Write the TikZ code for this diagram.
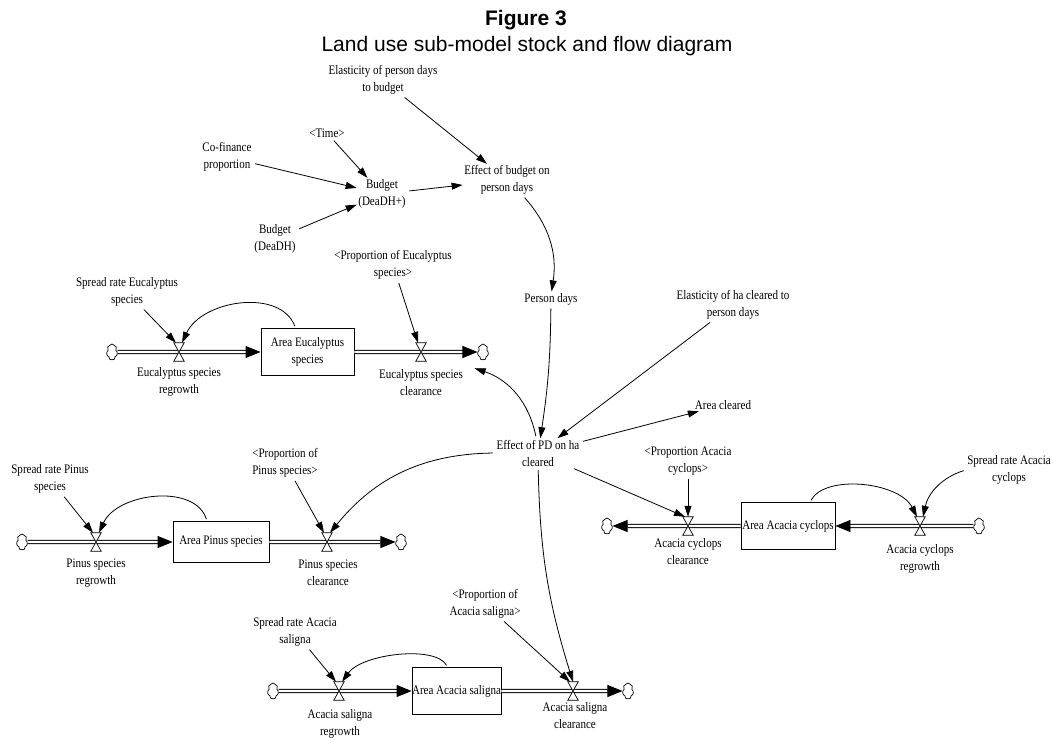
\documentclass[tikz,border=0pt]{standalone}
\usepackage{fontspec}
\setmainfont{Liberation Serif}
\newfontfamily\labfont[FakeStretch=0.85]{Liberation Serif}
\newfontfamily\headfont{Liberation Sans}
\usetikzlibrary{arrows.meta,shapes.symbols}

\begin{document}
\begin{tikzpicture}[x=1pt,y=-1pt,
  var/.style={font=\labfont\fontsize{13}{17}\selectfont, align=center, inner sep=1.5pt},
  stock/.style={var, draw, line width=0.9pt, inner sep=0pt},
  valvenode/.style={inner sep=0pt, minimum width=10pt, minimum height=18pt},
  valveline/.style={line width=0.7pt, fill=white},
  sink/.style={cloud, cloud puffs=7, cloud puff arc=120, aspect=0.7, draw, line width=0.7pt,
    minimum width=11pt, minimum height=16pt, inner sep=0pt},
  pipe/.style={draw, line width=0.9pt, double=white, double distance=2.4pt,
    -{Triangle[length=15pt,width=12pt]}},
  infolink/.style={line width=0.8pt, -{Triangle[length=11pt,width=7pt]}, shorten <=2pt},
]
\useasboundingbox (0,0) rectangle (1054,738);

% title
\node[font=\headfont\bfseries\fontsize{21}{25}\selectfont, anchor=base] (fig) at (526,26) {Figure 3};
\node[font=\headfont\fontsize{21}{25}\selectfont, anchor=base] (sub) at (527,52) {Land use sub-model stock and flow diagram};

% budget and effort variables
\node[var] (elpd) at (383,80) {Elasticity of person days\\to budget};
\node[var] (time) at (327,133) {\textless Time\textgreater};
\node[var] (cofin) at (227,157) {Co-finance\\proportion};
\node[var] (budp) at (382,194) {Budget\\(DeaDH+)};
\node[var] (bud) at (275,239) {Budget\\(DeaDH)};
\node[var] (ebpd) at (507,180) {Effect of budget on\\person days};
\node[var] (pd) at (551,299) {Person days};
\node[var] (elha) at (733,305) {Elasticity of ha cleared to\\person days};
\node[var] (arc) at (723,405) {Area cleared};
\node[var] (epd) at (538,453) {Effect of PD on ha\\cleared};

% Eucalyptus chain
\node[sink] (cE1) at (112,352) {};
\node[valvenode] (vE1) at (179,352) {};
\node[stock, minimum width=93pt, minimum height=47pt] (sE) at (307.5,352) {Area Eucalyptus\\species};
\node[valvenode] (vE2) at (421,352) {};
\node[sink] (cE2) at (483,352) {};
\node[var] (rE) at (179,382) {Eucalyptus species\\regrowth};
\node[var] (clE) at (421,383) {Eucalyptus species\\clearance};
\node[var] (spE) at (127,292) {Spread rate Eucalyptus\\species};
\node[var] (propE) at (393,265) {\textless Proportion of Eucalyptus\\species\textgreater};

% Pinus chain
\node[sink] (cP1) at (22,542) {};
\node[valvenode] (vP1) at (96,542) {};
\node[stock, minimum width=96pt, minimum height=41pt] (sP) at (221,542) {Area Pinus species};
\node[valvenode] (vP2) at (327,542) {};
\node[sink] (cP2) at (401,542) {};
\node[var] (rP) at (96,573) {Pinus species\\regrowth};
\node[var] (clP) at (328,573) {Pinus species\\clearance};
\node[var] (spP) at (50,479) {Spread rate Pinus\\species};
\node[var] (propP) at (285,463) {\textless Proportion of\\Pinus species\textgreater};

% Acacia cyclops chain
\node[sink] (cC1) at (607,526) {};
\node[valvenode] (vC1) at (688,526) {};
\node[stock, minimum width=94pt, minimum height=47pt] (sC) at (788,526) {Area Acacia cyclops};
\node[valvenode] (vC2) at (920,526) {};
\node[sink] (cC2) at (979,526) {};
\node[var] (clC) at (688,552) {Acacia cyclops\\clearance};
\node[var] (rC) at (920,559) {Acacia cyclops\\regrowth};
\node[var] (spC) at (1009,470) {Spread rate Acacia\\cyclops};
\node[var] (propC) at (688,461) {\textless Proportion Acacia\\cyclops\textgreater};

% Acacia saligna chain
\node[sink] (cS1) at (273,691) {};
\node[valvenode] (vS1) at (339,691) {};
\node[stock, minimum width=83pt, minimum height=47pt] (sS) at (456.5,691) {Area Acacia saligna};
\node[valvenode] (vS2) at (573,691) {};
\node[sink] (cS2) at (628,691) {};
\node[var] (rS) at (340,724) {Acacia saligna\\regrowth};
\node[var] (clS) at (575,716) {Acacia saligna\\clearance};
\node[var] (spS) at (295,632) {Spread rate Acacia\\saligna};
\node[var] (propS) at (485,604) {\textless Proportion of\\Acacia saligna\textgreater};

% material flows
\draw[pipe] (cE1) -- (sE);
\draw[pipe] (sE) -- (cE2);
\draw[pipe] (cP1) -- (sP);
\draw[pipe] (sP) -- (cP2);
\draw[pipe] (cC2) -- (sC);
\draw[pipe] (sC) -- (cC1);
\draw[pipe] (cS1) -- (sS);
\draw[pipe] (sS) -- (cS2);

% valves
\foreach \v in {vE1,vE2,vP1,vP2,vC1,vC2,vS1,vS2}
  \draw[valveline] (\v.north west) -- (\v.north east) -- (\v.south west) -- (\v.south east) -- cycle;

% budget links
\draw[infolink] (elpd) -- (ebpd);
\draw[infolink] (time) -- (budp);
\draw[infolink] (cofin) -- (budp);
\draw[infolink] (bud) -- (budp);
\draw[infolink] (budp) -- (ebpd);
\draw[infolink] (ebpd) to[bend left=25] (pd);
\draw[infolink] (pd) to[bend left=4] (epd);
\draw[infolink] (elha) -- (epd);
\draw[infolink] (epd) -- (arc);

% effort to clearance
\draw[infolink] (epd) to[bend right=30] ([xshift=10pt]clE.north east);
\draw[infolink] (epd.west) to[bend right=25] ([xshift=3pt]vP2.north);
\draw[infolink] (epd) -- ([xshift=-3pt]vC1.north);
\draw[infolink] (epd) to[bend right=8] (vS2.north);

% proportions
\draw[infolink] (propE) -- ([xshift=-3pt]vE2.north);
\draw[infolink] (propP) -- ([xshift=-3pt]vP2.north);
\draw[infolink] (propC) -- (vC1.north);
\draw[infolink] (propS) -- ([xshift=-3pt]vS2.north);

% spread rates
\draw[infolink] (spE) -- ([xshift=-3pt]vE1.north);
\draw[infolink] (spP) -- ([xshift=-3pt]vP1.north);
\draw[infolink] (spS) -- ([xshift=-3pt]vS1.north);
\draw[infolink] (spC.west) to[bend right=30] ([xshift=3pt]vC2.north);

% stock feedback to regrowth
\draw[infolink] ([xshift=-12pt]sE.north) .. controls +(-15,-40) and +(20,-43) .. ([xshift=3pt]vE1.north);
\draw[infolink] ([xshift=-14pt]sP.north) .. controls +(-12,-38) and +(18,-40) .. ([xshift=3pt]vP1.north);
\draw[infolink] ([xshift=-9pt]sS.north) .. controls +(-12,-22) and +(20,-28) .. ([xshift=3pt]vS1.north);
\draw[infolink] ([xshift=22pt]sC.north) .. controls +(15,-28) and +(-18,-35) .. ([xshift=-3pt]vC2.north);
\end{tikzpicture}
\end{document}
